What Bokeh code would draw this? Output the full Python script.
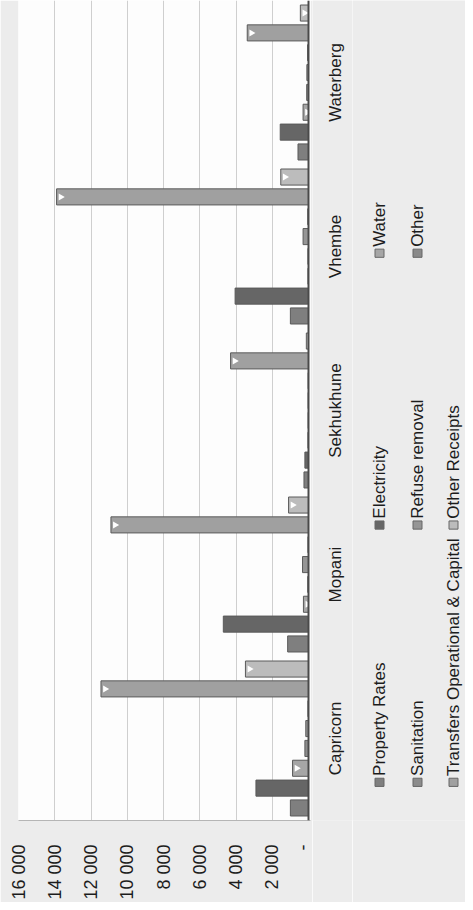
import math
from bokeh.plotting import figure
from bokeh.layouts import row
from bokeh.models import ColumnDataSource, FactorRange, Range1d, FixedTicker, Span
from bokeh.core.properties import value
from bokeh.transform import dodge
from bokeh.embed import file_html
from bokeh.resources import INLINE

# ---------------- data ----------------
districts = ["Capricorn", "Mopani", "Sekhukhune", "Vhembe", "Waterberg"]
series_names = ["Property Rates", "Electricity", "Water", "Sanitation",
                "Refuse removal", "Other", "Transfers Operational & Capital",
                "Other Receipts"]
property_rates = [1000, 1150, 250, 1000, 580]
electricity = [2900, 4700, 200, 4050, 1560]
water = [880, 280, 30, 30, 300]
sanitation = [200, 40, 20, 30, 100]
refuse_removal = [150, 330, 20, 300, 90]
other = [30, 30, 20, 40, 50]
transfers = [11450, 10900, 4300, 13900, 3380]
other_receipts = [3480, 1100, 120, 1530, 450]
tick_values = [0, 2000, 4000, 6000, 8000, 10000, 12000, 14000, 16000]
tick_labels = ["-", "2 000", "4 000", "6 000", "8 000", "10 000", "12 000", "14 000", "16 000"]

series_values = [property_rates, electricity, water, sanitation,
                 refuse_removal, other, transfers, other_receipts]
keys = ["s%d" % i for i in range(len(series_names))]
colors = ["#7f7f7f", "#666666", "#a6a6a6", "#8c8c8c",
          "#959595", "#8a8a8a", "#a0a0a0", "#bcbcbc"]
marked = [2, 6, 7]  # series drawn with the light end-marker

data = {"district": districts}
for k, v in zip(keys, series_values):
    data[k] = v
source = ColumnDataSource(data)

FONT = "Liberation Sans"
TXT = "#1c1c1c"
PAGE_BG = "#ececec"
H = 902
TOP, BOTTOM = 0, 75

yr = FactorRange(factors=districts)

p = figure(width=312, height=H,
           x_range=Range1d(tick_values[-1], -110),
           y_range=yr, y_axis_location=None,
           output_backend="svg", toolbar_location=None,
           min_border_left=18, min_border_right=2,
           min_border_top=TOP, min_border_bottom=BOTTOM,
           background_fill_color="#fdfdfd", border_fill_color=PAGE_BG,
           outline_line_color=None)

step = 0.121
bar_h = 0.098
n = len(keys)
for i, k in enumerate(keys):
    off = (i - (n - 1) / 2) * step
    p.hbar(y=dodge("district", off, range=p.y_range), left=0, right=k,
           height=bar_h, source=source, fill_color=colors[i],
           line_color="#5a5a5a", line_width=1)
    if i in marked:
        ms = ColumnDataSource({
            "district": [d for d, v in zip(districts, series_values[i]) if v >= 250],
            "mx": [v - 230 for v in series_values[i] if v >= 250],
        })
        p.scatter(x="mx", y=dodge("district", off, range=p.y_range), source=ms,
                  marker="triangle", size=7, angle=-math.pi / 2,
                  fill_color="white", line_color=None)

# category axis line (value 0)
p.add_layout(Span(location=0, dimension="height", line_color="#4a4a4a", line_width=2))

# value axis at bottom
p.xaxis.ticker = FixedTicker(ticks=tick_values)
p.xaxis.major_label_overrides = {v: l for v, l in zip(tick_values, tick_labels)}
p.xaxis.major_label_orientation = math.pi / 2
p.xaxis.major_label_text_font = FONT
p.xaxis.major_label_text_font_size = "18px"
p.xaxis.major_label_text_color = TXT
p.xaxis.major_label_standoff = 18
p.xaxis.major_tick_line_color = None
p.xaxis.minor_tick_line_color = None
p.xaxis.axis_line_color = "#b5b5b5"

p.xgrid.ticker = FixedTicker(ticks=tick_values)
p.xgrid.grid_line_color = "#cfcfcf"
p.ygrid.visible = False

# ---------------- category labels panel (shares the category range) ----------------
CW = 40
cp = figure(width=CW, height=H, x_range=Range1d(0, CW), y_range=yr,
            output_backend="svg", toolbar_location=None,
            min_border_left=0, min_border_right=0,
            min_border_top=TOP, min_border_bottom=BOTTOM,
            background_fill_color=PAGE_BG, border_fill_color=PAGE_BG,
            outline_line_color=None)
cp.axis.visible = False
cp.grid.visible = False
cat_src = ColumnDataSource({"district": districts, "x": [23] * len(districts)})
cp.text(x="x", y="district", text="district", source=cat_src, angle=math.pi / 2,
        text_align="center", text_baseline="middle",
        text_font=value(FONT), text_font_size=value("17px"), text_color=TXT)

# ---------------- rotated legend panel ----------------
LW = 113
lg = figure(width=LW, height=H, x_range=Range1d(0, LW), y_range=Range1d(H, 0),
            output_backend="svg", toolbar_location=None,
            min_border=0, background_fill_color=PAGE_BG,
            border_fill_color=PAGE_BG, outline_line_color=None)
lg.axis.visible = False
lg.grid.visible = False

col_x = [27, 65, 101]
row_y = [860, 577, 278]
leg = ColumnDataSource({
    "name": series_names,
    "color": colors,
    "x": [col_x[i // 3] for i in range(n)],
    "y": [row_y[i % 3] for i in range(n)],
    "ty": [row_y[i % 3] - 7 for i in range(n)],
})
lg.rect(x="x", y="y", width=9, height=9, source=leg, fill_color="color",
        line_color="#666666", line_width=1)
lg.text(x="x", y="ty", text="name", source=leg, angle=math.pi / 2,
        text_align="left", text_baseline="middle",
        text_font=value(FONT), text_font_size=value("17px"), text_color=TXT)

layout = row(p, cp, lg)
open("out.html", "w").write(file_html(layout, INLINE))
